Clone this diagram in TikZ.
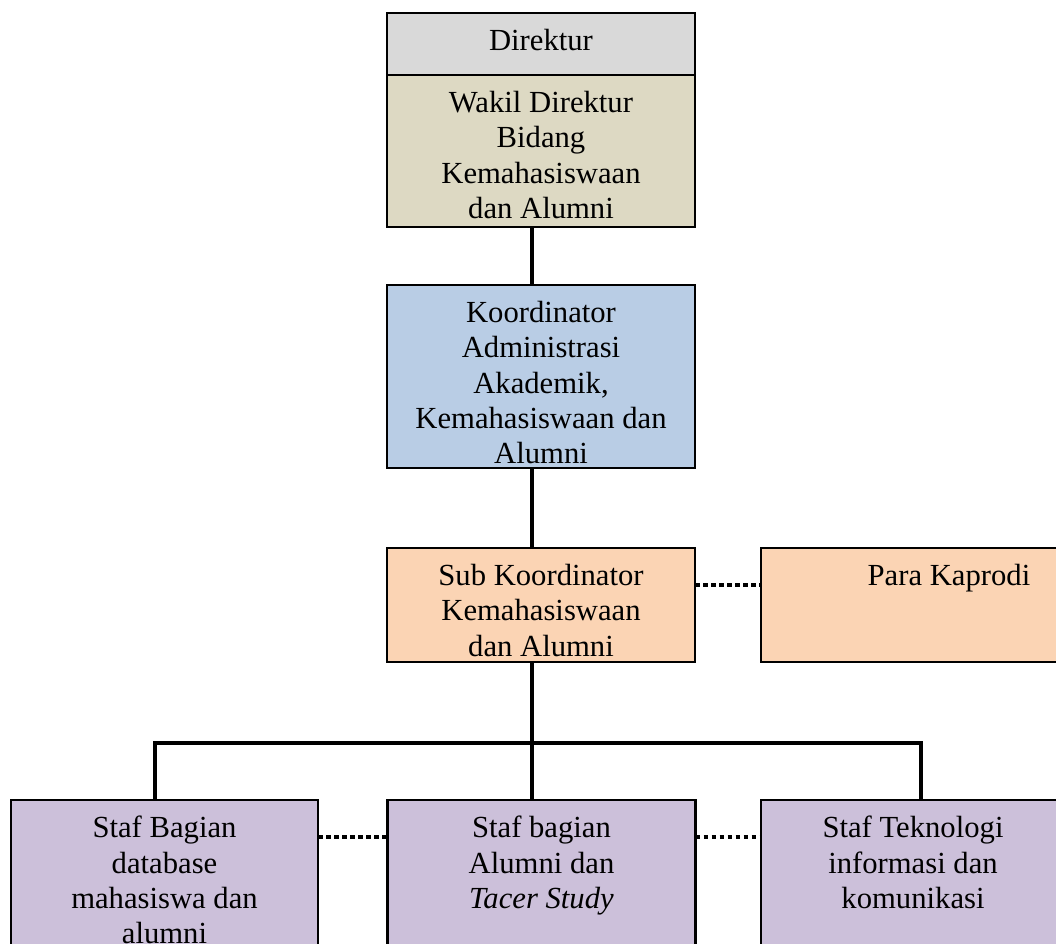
\documentclass[tikz,border=0pt]{standalone}
\usepackage{fontspec}
\setmainfont{Liberation Serif}
\definecolor{direkturgrey}{HTML}{D9D9D9}
\definecolor{wakiltan}{HTML}{DDD9C3}
\definecolor{koordblue}{HTML}{B9CDE5}
\definecolor{subpeach}{HTML}{FBD4B4}
\definecolor{staflilac}{HTML}{CCC0DA}
\tikzset{unitbox/.style={draw, line width=2.2pt, inner sep=0pt, outer sep=0pt}}
\tikzset{boxtext/.style={anchor=north, align=center, inner sep=0pt, yshift=-12pt, font=\fontsize{23}{26.5}\selectfont}}
\tikzset{edge/.style={line width=3.2pt}}
\tikzset{dedge/.style={line width=3.2pt, dash pattern=on 3.5pt off 2.5pt}}

\begin{document}
\begin{tikzpicture}[x=0.75pt, y=-0.75pt]%{{{
        \clip (0,0) rectangle (1056,943);

        \node[unitbox, fill=direkturgrey, minimum width=231pt, minimum height=46.5pt,
            label={[boxtext]north:Direktur}] (dir) at (541, 44) {};
        \node[unitbox, fill=wakiltan, minimum width=231pt, minimum height=114pt,
            label={[boxtext]north:{Wakil Direktur\\Bidang\\Kemahasiswaan\\dan Alumni}}] (wakil) at (541, 151) {};
        \node[unitbox, fill=koordblue, minimum width=231pt, minimum height=137.25pt,
            label={[boxtext]north:{Koordinator\\Administrasi\\Akademik,\\Kemahasiswaan dan\\Alumni}}] (koord) at (541, 376.5) {};
        \node[unitbox, fill=subpeach, minimum width=231pt, minimum height=85.5pt,
            label={[boxtext]north:{Sub Koordinator\\Kemahasiswaan\\dan Alumni}}] (sub) at (541, 605) {};
        \node[unitbox, fill=subpeach, minimum width=282pt, minimum height=85.5pt,
            label={[boxtext]north:Para Kaprodi}] (kaprodi) at (949, 605) {};

        \node[unitbox, fill=staflilac, minimum width=230.25pt, minimum height=120pt,
            label={[boxtext]north:{Staf Bagian\\database\\mahasiswa dan\\alumni}}] (staf1) at (164.5, 880) {};
        \node[unitbox, fill=staflilac, minimum width=231pt, minimum height=120pt,
            label={[boxtext]north:{Staf bagian\\Alumni dan\\\textit{Tacer Study}}}] (staf2) at (541.5, 880) {};
        \node[unitbox, fill=staflilac, minimum width=228pt, minimum height=120pt,
            label={[boxtext]north:{Staf Teknologi\\informasi dan\\komunikasi}}] (staf3) at (913, 880) {};

        \coordinate (trunk) at (532, 0);
        \coordinate (busL) at (155, 743);
        \coordinate (busR) at (921, 743);

        \draw [edge] (wakil.south -| trunk) -- (koord.north -| trunk);
        \draw [edge] (koord.south -| trunk) -- (sub.north -| trunk);
        \draw [edge] (sub.south -| trunk) -- (staf2.north -| trunk);
        \draw [edge] (staf1.north -| busL) -- (busL) -- (busR) -- (staf3.north -| busR);

        \draw [dedge] ([yshift=15pt]sub.east) -- ([yshift=15pt]kaprodi.west);
        \draw [dedge] ([yshift=32.25pt]staf1.east) -- ([yshift=32.25pt]staf2.west);
        \draw [dedge] ([yshift=32.25pt]staf2.east) -- ([yshift=32.25pt]staf3.west);
    \end{tikzpicture}%}}}
\end{document}
